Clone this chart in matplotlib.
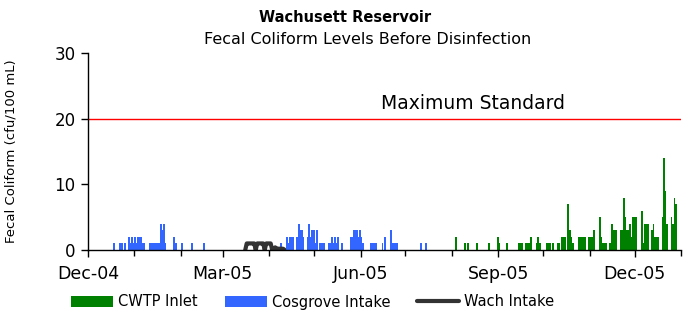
import matplotlib
matplotlib.use("Agg")
import matplotlib.pyplot as plt
import matplotlib.dates as mdates
import matplotlib.transforms as mtransforms
import numpy as np

# ---------------- data ----------------
cwtp_dates = [
    "2005-08-03", "2005-08-09", "2005-08-11", "2005-08-17", "2005-08-25",
    "2005-08-31", "2005-09-01", "2005-09-06",
    "2005-09-14", "2005-09-15", "2005-09-16",
    "2005-09-19", "2005-09-20", "2005-09-21", "2005-09-22",
    "2005-09-26", "2005-09-27", "2005-09-28",
    "2005-10-03", "2005-10-04", "2005-10-05", "2005-10-07",
    "2005-10-10", "2005-10-11",
    "2005-10-13", "2005-10-14", "2005-10-15",
    "2005-10-17", "2005-10-18", "2005-10-19", "2005-10-20",
    "2005-10-24", "2005-10-25", "2005-10-26", "2005-10-27", "2005-10-28",
    "2005-10-31", "2005-11-01", "2005-11-02", "2005-11-03",
    "2005-11-07", "2005-11-08", "2005-11-09", "2005-11-10", "2005-11-11",
    "2005-11-14", "2005-11-15", "2005-11-16", "2005-11-17", "2005-11-18",
    "2005-11-21", "2005-11-22", "2005-11-23", "2005-11-24", "2005-11-25",
    "2005-11-26", "2005-11-27", "2005-11-28", "2005-11-29", "2005-11-30",
    "2005-12-01",
    "2005-12-05", "2005-12-06", "2005-12-07", "2005-12-08", "2005-12-09",
    "2005-12-12", "2005-12-13", "2005-12-14", "2005-12-15", "2005-12-16",
    "2005-12-19", "2005-12-20", "2005-12-21", "2005-12-22",
    "2005-12-25", "2005-12-26", "2005-12-27", "2005-12-28",
]
cwtp_values = [
    2, 1, 1, 1, 1,
    2, 1, 1,
    1, 1, 1,
    1, 1, 1, 2,
    1, 2, 1,
    1, 1, 1, 1,
    1, 1,
    2, 2, 2,
    7, 3, 2, 1,
    2, 2, 2, 2, 2,
    2, 2, 2, 3,
    5, 2, 1, 1, 1,
    1, 4, 3, 3, 3,
    3, 3, 8, 5, 3,
    3, 4, 2, 5, 5,
    5,
    6, 1, 4, 4, 4,
    3, 4, 2, 2, 2,
    5, 14, 9, 4,
    5, 4, 8, 7,
]

cosgrove_dates = [
    "2004-12-18", "2004-12-22", "2004-12-23", "2004-12-25",
    "2004-12-28", "2004-12-29", "2004-12-30", "2004-12-31",
    "2005-01-01", "2005-01-02", "2005-01-03", "2005-01-04", "2005-01-05",
    "2005-01-06", "2005-01-07",
    "2005-01-11", "2005-01-12", "2005-01-13", "2005-01-14", "2005-01-15",
    "2005-01-16", "2005-01-17",
    "2005-01-18", "2005-01-19", "2005-01-20", "2005-01-21",
    "2005-01-27", "2005-01-28", "2005-02-01", "2005-02-08", "2005-02-16",
    "2005-04-08",
    "2005-04-12", "2005-04-13", "2005-04-14", "2005-04-15", "2005-04-16",
    "2005-04-19", "2005-04-20", "2005-04-21", "2005-04-22", "2005-04-23",
    "2005-04-26", "2005-04-27", "2005-04-28", "2005-04-29", "2005-04-30",
    "2005-05-01", "2005-05-02",
    "2005-05-04", "2005-05-05", "2005-05-06", "2005-05-07",
    "2005-05-10", "2005-05-11", "2005-05-12", "2005-05-13", "2005-05-14",
    "2005-05-15", "2005-05-16", "2005-05-19",
    "2005-05-25", "2005-05-26", "2005-05-27", "2005-05-28", "2005-05-29",
    "2005-05-30", "2005-05-31", "2005-06-01", "2005-06-02",
    "2005-06-07", "2005-06-08", "2005-06-09", "2005-06-10", "2005-06-11",
    "2005-06-15", "2005-06-17",
    "2005-06-21", "2005-06-22", "2005-06-23", "2005-06-24", "2005-06-25",
    "2005-07-11", "2005-07-14",
]
cosgrove_values = [
    1, 1, 1, 1,
    2, 1, 2, 1,
    2, 1, 2, 2, 2,
    1, 1,
    1, 1, 1, 1, 1,
    1, 1,
    4, 3, 4, 1,
    2, 1, 1, 1, 1,
    1,
    2, 1, 2, 2, 2,
    2, 4, 3, 3, 2,
    2, 4, 2, 3, 3,
    1, 3,
    1, 1, 1, 1,
    1, 1, 2, 1, 2,
    1, 2, 1,
    2, 2, 3, 3, 3,
    2, 3, 2, 1,
    1, 1, 1, 1, 1,
    1, 2,
    3, 1, 1, 1, 1,
    1, 1,
]

wach_dates = [
    "2005-03-16", "2005-03-17", "2005-03-18", "2005-03-19", "2005-03-20",
    "2005-03-21", "2005-03-22", "2005-03-23", "2005-03-24", "2005-03-25",
    "2005-03-26", "2005-03-27", "2005-03-28", "2005-03-29", "2005-03-30",
    "2005-03-31", "2005-04-01", "2005-04-02", "2005-04-03", "2005-04-04",
    "2005-04-05", "2005-04-06", "2005-04-07", "2005-04-08", "2005-04-09",
    "2005-04-10", "2005-04-11",
]
wach_values = [
    0, 1, 1, 1, 1,
    1, 1, 0, 1, 1,
    1, 1, 1, 0, 1,
    1, 1, 1, 0, 0.2,
    0.4, 0.2, 0.2, 0.2, 0.2,
    0.2, 0.1,
]

max_standard = 20
y_ticks = [0, 10, 20, 30]
x_tick_labels = ["Dec-04", "Mar-05", "Jun-05", "Sep-05", "Dec-05"]

# ---------------- figure ----------------
plt.rcParams["font.family"] = ["DejaVu Sans"]
W, H = 699, 312
fig = plt.figure(figsize=(W / 100, H / 100), dpi=100)
ax = fig.add_axes([88 / W, (H - 250) / H, (681 - 88) / W, (250 - 53.3) / H])

def to_num(ds):
    return mdates.date2num(np.array(ds, dtype="datetime64[D]"))

green = "#008000"
blue = "#3366FF"
dark = "#333333"

ax.bar(to_num(cwtp_dates), cwtp_values, width=1.3, align="edge",
       color=green, linewidth=0, label="CWTP Inlet", zorder=3)
ax.bar(to_num(cosgrove_dates), cosgrove_values, width=1.3, align="edge",
       color=blue, linewidth=0, label="Cosgrove Intake", zorder=3)
ax.plot(to_num(wach_dates), wach_values, color=dark, lw=3.0,
        solid_capstyle="round", solid_joinstyle="round",
        label="Wach Intake", zorder=4)

ax.axhline(max_standard, color="#FF0000", lw=1.0, zorder=2)
ax.text((473 - 88) / (681 - 88), max_standard + 2.3, "Maximum Standard",
        transform=mtransforms.blended_transform_factory(ax.transAxes, ax.transData),
        ha="center", va="center", fontsize=13.5, color="black")

ax.set_xlim(to_num(["2004-12-01"])[0], to_num(["2006-01-01"])[0])
ax.set_ylim(0, 30)
ax.set_yticks(y_ticks)
ax.set_yticklabels([str(v) for v in y_ticks])

major = to_num(["2004-12-01", "2005-03-01", "2005-06-01", "2005-09-01", "2005-12-01"])
ax.set_xticks(major)
ax.set_xticklabels(x_tick_labels)
ax.xaxis.set_minor_locator(mdates.MonthLocator())

for s in ["top", "right"]:
    ax.spines[s].set_visible(False)
for s in ["left", "bottom"]:
    ax.spines[s].set_color("black")
    ax.spines[s].set_linewidth(1.0)
    ax.spines[s].set_zorder(5)

ax.tick_params(axis="y", direction="out", length=5, width=1, labelsize=12, pad=4)
ax.tick_params(axis="x", which="major", direction="out", length=5, width=1,
               labelsize=12.5, pad=6, colors="black")
ax.tick_params(axis="x", which="minor", direction="out", length=4, width=1)

ax.set_ylabel("Fecal Coliform (cfu/100 mL)", fontsize=9.5, labelpad=8)
ax.yaxis.set_label_coords(-(88 - 18) / (681 - 88), 0.5)

fig.text(345 / W, 1 - 17 / H, "Wachusett Reservoir", ha="center", va="center",
         fontsize=10.5, fontweight="bold")
fig.text(368 / W, 1 - 39 / H, "Fecal Coliform Levels Before Disinfection",
         ha="center", va="center", fontsize=11.5)

handles, labels = ax.get_legend_handles_labels()
order = [labels.index(l) for l in ["CWTP Inlet", "Cosgrove Intake", "Wach Intake"]]
fs = 10.5
fpx = fs * 100 / 72
fig.legend([handles[i] for i in order], [labels[i] for i in order],
           loc="center left", bbox_to_anchor=(71 / W, 1 - 302 / H),
           ncol=3, frameon=False, fontsize=fs, borderpad=0, borderaxespad=0,
           handlelength=42 / fpx, handleheight=0.7, handletextpad=5 / fpx,
           columnspacing=27 / fpx)

fig.savefig("out.png", dpi=100)
